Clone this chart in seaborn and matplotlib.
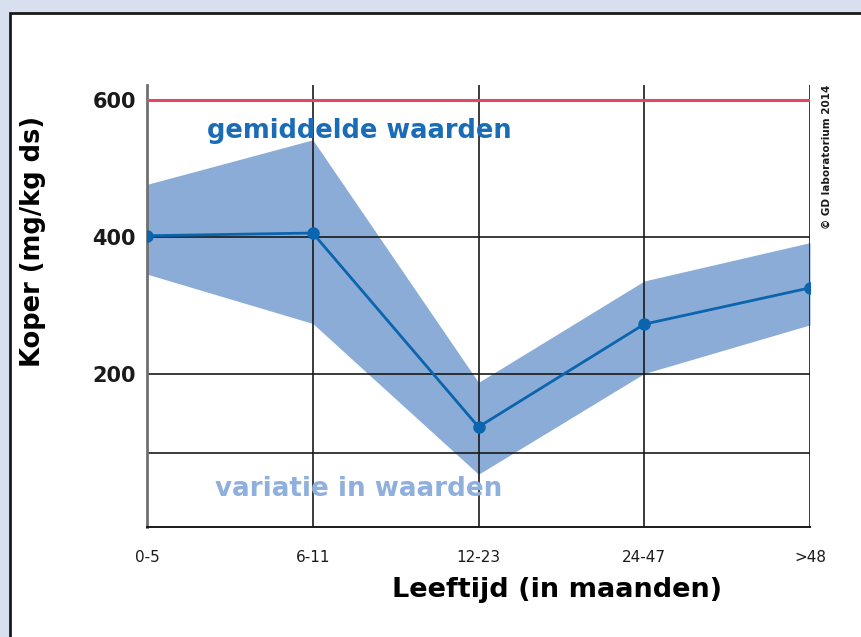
import matplotlib
matplotlib.use("Agg")
import matplotlib.pyplot as plt
from matplotlib.patches import Rectangle
import numpy as np
import pandas as pd
import seaborn as sns

# data
age_groups = ["0-5", "6-11", "12-23", "24-47", ">48"]
mean_values = [402, 406, 123, 273, 326]
upper_values = [477, 542, 188, 336, 392]
lower_values = [346, 274, 54, 201, 272]
grid_values = [400, 200, 85]
norm_value = 600
y_ticks = [200, 400, 600]

df = pd.DataFrame({"leeftijd": age_groups, "koper": mean_values,
                   "boven": upper_values, "onder": lower_values})

sns.set_theme(style="white")
plt.rcParams["font.family"] = ["DejaVu Sans"]

fig = plt.figure(figsize=(8.62, 6.37), dpi=100)
fig.patch.set_facecolor("#d8e0ef")
# white page with dark border on left/top
fig.patches.append(Rectangle((10 / 862, -0.01), 1.0, 1 - 13 / 637 + 0.01,
                             transform=fig.transFigure, facecolor="white",
                             edgecolor="#1a1a1a", lw=2.0, zorder=-10))

ax = fig.add_axes([147 / 862, 1 - 527 / 637, (810 - 147) / 862, (527 - 85) / 637])
ax.set_facecolor("none")

x = np.arange(len(age_groups))
ax.fill_between(x, df["onder"], df["boven"], color="#8aacd6", lw=0, zorder=1)

# grid lines
for xv in x:
    ax.axvline(xv, color="#1a1a1a", lw=1.2, zorder=2)
for gv in grid_values:
    ax.axhline(gv, color="#1a1a1a", lw=1.2, zorder=2)
ax.axhline(norm_value, color="#e5485e", lw=2.2, zorder=3)

sns.lineplot(data=df, x="leeftijd", y="koper", marker="o", markersize=9,
             color="#0b64ae", lw=2.0, markeredgewidth=0, ax=ax, zorder=4)

ax.set_xlim(0, len(age_groups) - 1)
ax.set_ylim(-23, 622)
ax.set_xticks(x)
ax.set_xticklabels(age_groups, fontsize=11, color="#1a1a1a")
ax.set_yticks(y_ticks)
ax.set_yticklabels([str(v) for v in y_ticks], fontsize=15, fontweight="bold",
                   color="#1a1a1a")
ax.tick_params(axis="x", length=9, width=1.2, color="#1a1a1a", pad=12, direction="inout")
ax.tick_params(axis="y", length=0, pad=8)

for s in ["top", "right"]:
    ax.spines[s].set_visible(False)
ax.spines["left"].set_color("#707070")
ax.spines["left"].set_linewidth(2.0)
ax.spines["bottom"].set_color("#1a1a1a")
ax.spines["bottom"].set_linewidth(1.4)

ax.set_xlabel("Leeftijd (in maanden)", fontsize=19.5, fontweight="bold",
              color="black")
ax.xaxis.set_label_coords(0.618, -0.112)
ax.set_ylabel("Koper (mg/kg ds)", fontsize=18.5, fontweight="bold", color="black")
ax.yaxis.set_label_coords(-0.153, 0.645)

ax.text(0.09, 0.895, "gemiddelde waarden", transform=ax.transAxes,
        fontsize=18.5, fontweight="bold", color="#1a6cb6", va="center", ha="left")
ax.text(0.102, 0.085, "variatie in waarden", transform=ax.transAxes,
        fontsize=18.8, fontweight="bold", color="#8fb0dc", va="center", ha="left")
ax.text(1.025, 1.0, "© GD laboratorium 2014", transform=ax.transAxes,
        fontsize=7.5, fontweight="bold", rotation=90, va="top", ha="center",
        color="#1a1a1a")

fig.savefig("out.png", dpi=100, facecolor=fig.get_facecolor())
